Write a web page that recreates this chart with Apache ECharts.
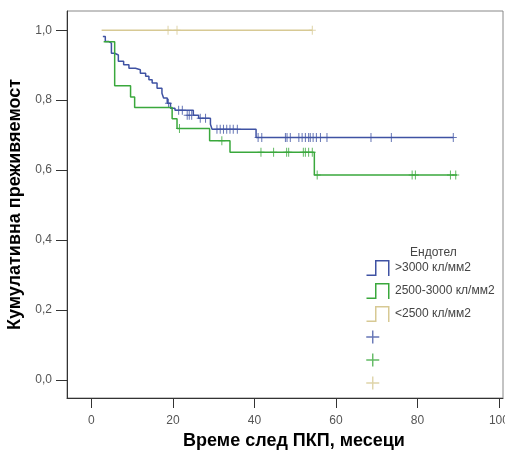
<!DOCTYPE html>
<html>
<head>
<meta charset="utf-8">
<script src="https://cdn.jsdelivr.net/npm/echarts@6/dist/echarts.min.js"></script>
<style>
  html, body { margin: 0; padding: 0; background: #fff; }
  #km { width: 505px; height: 459px; }
</style>
</head>
<body>
<div id="km"></div>
<script>
// групи
var groupNames = ['>3000 кл/мм2', '2500-3000 кл/мм2', '<2500 кл/мм2'];
var censorNames = ['cens1', 'cens2', 'cens3'];
var xTicks = [0, 20, 40, 60, 80, 100];
var yTicks = [0, 0.2, 0.4, 0.6, 0.8, 1.0];

// стъпки [време, преживяемост]
var blueSteps = [
  [2.8, 0.982], [3.4, 0.968], [4.2, 0.963], [4.9, 0.934], [5.7, 0.929],
  [6.6, 0.911], [7.9, 0.901], [9.2, 0.891], [10.8, 0.887], [12.0, 0.877],
  [13.3, 0.868], [14.1, 0.858], [14.9, 0.849], [16.1, 0.834], [17.3, 0.820],
  [17.7, 0.806], [18.6, 0.791], [19.4, 0.777], [20.5, 0.771], [25.0, 0.757],
  [26.3, 0.748], [29.2, 0.731], [29.6, 0.717], [40.4, 0.693], [88.8, 0.693]
];
var greenSteps = [
  [3.0, 0.967], [5.7, 0.841], [9.6, 0.809], [10.6, 0.779], [19.8, 0.747],
  [21.0, 0.719], [29.0, 0.684], [34.0, 0.651], [54.7, 0.586], [89.7, 0.586]
];
var tanSteps = [[2.5, 1.0], [54.2, 1.0]];

// цензурирани
var blueCensored = [
  [18.9, 0.791], [21.4, 0.771], [22.3, 0.771], [23.5, 0.757], [24.0, 0.757],
  [24.6, 0.757], [26.7, 0.748], [28.0, 0.748], [30.8, 0.717], [31.6, 0.717],
  [32.4, 0.717], [33.2, 0.717], [34.0, 0.717], [34.8, 0.717], [35.8, 0.717],
  [40.9, 0.693], [41.8, 0.693], [47.6, 0.693], [48.0, 0.693], [48.8, 0.693],
  [50.9, 0.693], [51.7, 0.693], [52.5, 0.693], [53.3, 0.693], [53.7, 0.693],
  [54.4, 0.693], [55.2, 0.693], [56.2, 0.693], [57.8, 0.693], [68.6, 0.693],
  [73.6, 0.693], [88.8, 0.693]
];
var greenCensored = [
  [21.6, 0.719], [32.0, 0.684], [41.6, 0.651], [44.7, 0.651], [47.9, 0.651],
  [48.4, 0.651], [52.0, 0.651], [52.5, 0.651], [53.3, 0.651], [54.2, 0.651],
  [55.4, 0.586], [78.7, 0.586], [79.5, 0.586], [88.1, 0.586], [89.4, 0.586]
];
var tanCensored = [[18.8, 1.0], [21.0, 1.0], [54.2, 1.0]];

var colors = ['#3f52a3', '#3aa83c', '#d7c994'];

var stepIcon = 'path://M0,14.5H8.5V0H23V16H21.5V1.5H10V16H0Z';
var plusIcon = 'path://M6.3,1.5H7.7V14.5H6.3Z M0.5,7.3H13.5V8.7H0.5Z M23.95,0H24V0.05H23.95Z M23.95,15.95H24V16H23.95Z';
var censorMark = 'path://M3,0H4V9H3Z M0,4H7V5H0Z';

var chart = echarts.init(document.getElementById('km'));

function stepSeries(name, data, color) {
  return {
    name: name,
    type: 'line',
    step: 'end',
    showSymbol: false,
    symbol: 'none',
    data: data,
    lineStyle: { color: color, width: 1.5 },
    itemStyle: { color: color },
    silent: true
  };
}
function censorSeries(name, data, color) {
  return {
    name: name,
    type: 'scatter',
    symbol: censorMark,
    symbolSize: [7, 9],
    data: data,
    itemStyle: { color: color }
  };
}

var option = {
  animation: false,
  textStyle: { fontFamily: 'Liberation Sans, Arial, sans-serif' },
  title: {
    text: 'Ендотел',
    left: 405,
    top: 242,
    textStyle: { fontSize: 12, fontWeight: 'normal', color: '#444' }
  },
  grid: {
    left: 67, top: 11, right: 2, bottom: 61,
    outerBoundsMode: 'none',
    containLabel: false,
    show: true, borderColor: '#888', borderWidth: 1
  },
  legend: {
    orient: 'vertical',
    left: 361,
    top: 255,
    itemWidth: 24,
    itemHeight: 16,
    itemGap: 7,
    textStyle: { fontSize: 12, color: '#444' },
    formatter: function (name) {
      return censorNames.indexOf(name) >= 0 ? '' : name;
    },
    data: [
      { name: groupNames[0], icon: stepIcon },
      { name: groupNames[1], icon: stepIcon },
      { name: groupNames[2], icon: stepIcon },
      { name: censorNames[0], icon: plusIcon },
      { name: censorNames[1], icon: plusIcon },
      { name: censorNames[2], icon: plusIcon }
    ]
  },
  xAxis: {
    type: 'value',
    min: -6,
    max: 101,
    name: 'Време след ПКП, месеци',
    nameLocation: 'middle',
    nameGap: 34,
    nameTextStyle: { fontSize: 18, fontWeight: 'bold', color: '#000', padding: [0, 0, 0, 18] },
    axisLine: { show: true, onZero: false, lineStyle: { color: '#333' } },
    axisTick: { show: true, length: 10, customValues: xTicks, lineStyle: { color: '#333' } },
    axisLabel: { customValues: xTicks, margin: 17, fontSize: 12, color: '#555' },
    splitLine: { show: false }
  },
  yAxis: {
    type: 'value',
    min: -0.052,
    max: 1.055,
    name: 'Кумулативна преживяемост',
    nameLocation: 'middle',
    nameGap: 42,
    nameTextStyle: { fontSize: 18, fontWeight: 'bold', color: '#000' },
    axisLine: { show: true, onZero: false, lineStyle: { color: '#333' } },
    axisTick: { show: true, length: 11, customValues: yTicks, lineStyle: { color: '#333' } },
    axisLabel: {
      customValues: yTicks,
      margin: 15,
      fontSize: 12,
      color: '#555',
      formatter: function (v) {
        return v.toFixed(1).replace('.', ',');
      }
    },
    splitLine: { show: false }
  },
  series: [
    stepSeries(groupNames[0], blueSteps, colors[0]),
    stepSeries(groupNames[1], greenSteps, colors[1]),
    stepSeries(groupNames[2], tanSteps, colors[2]),
    censorSeries(censorNames[0], blueCensored, colors[0]),
    censorSeries(censorNames[1], greenCensored, colors[1]),
    censorSeries(censorNames[2], tanCensored, colors[2])
  ]
};
chart.setOption(option);
</script>
</body>
</html>
